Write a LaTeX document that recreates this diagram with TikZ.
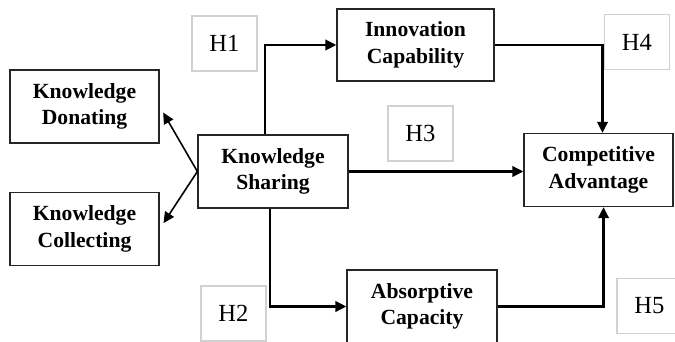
\documentclass[tikz,border=0pt]{standalone}
\usepackage{fontspec}
\setmainfont{Liberation Serif}
\usetikzlibrary{arrows.meta}

\begin{document}
\begin{tikzpicture}[x=0.02cm,y=-0.02cm,
  box/.style={draw=black!85,line width=0.75pt,align=center,inner sep=0pt,
    font=\fontsize{12.3}{15}\selectfont\bfseries,minimum width=2.98cm,minimum height=1.46cm},
  hbox/.style={draw=black!18,line width=0.6pt,inner sep=0pt,
    font=\fontsize{14}{16}\selectfont,minimum width=1.3cm,minimum height=1.1cm},
  link/.style={draw=black,line width=1.3pt,-{Triangle[length=2.2mm,width=2.1mm]}},
]
\clip (0,0) rectangle (675,341);

\node[box] (kd) at (84.5,106.5) {Knowledge\\Donating};
\node[box] (kc) at (84.5,229) {Knowledge\\Collecting};
\node[box,minimum width=3cm] (ks) at (273,171.5) {Knowledge\\Sharing};
\node[box,minimum width=3.14cm,minimum height=1.44cm] (ic) at (415.5,45) {Innovation\\Capability};
\node[box] (ca) at (598.5,170) {Competitive\\Advantage};
\node[box,minimum width=3cm] (ac) at (422,306.5) {Absorptive\\Capacity};

\node[hbox] (h1) at (224.5,43.5) {H1};
\node[hbox] (h2) at (233.5,313.5) {H2};
\node[hbox] (h3) at (420.5,133.5) {H3};
\node[hbox] (h4) at (637,42) {H4};
\node[hbox] (h5) at (649.5,306) {H5};

\draw[link,line width=0.9pt,shorten >=4] (ks.west) -- (kd.east);
\draw[link,line width=0.9pt,shorten >=4] (ks.west) -- (kc.east);
\draw[link] ([xshift=-0.16cm]ks.north) |- (ic.west);
\draw[link] ([xshift=-0.06cm]ks.south) |- (ac.west);
\draw[link] (ks.east) -- (ks.east -| ca.west);
\draw[link] (ic.east) -| ([xshift=0.08cm]ca.north);
\draw[link] (ac.east) -| ([xshift=0.1cm]ca.south);

\end{tikzpicture}
\end{document}
